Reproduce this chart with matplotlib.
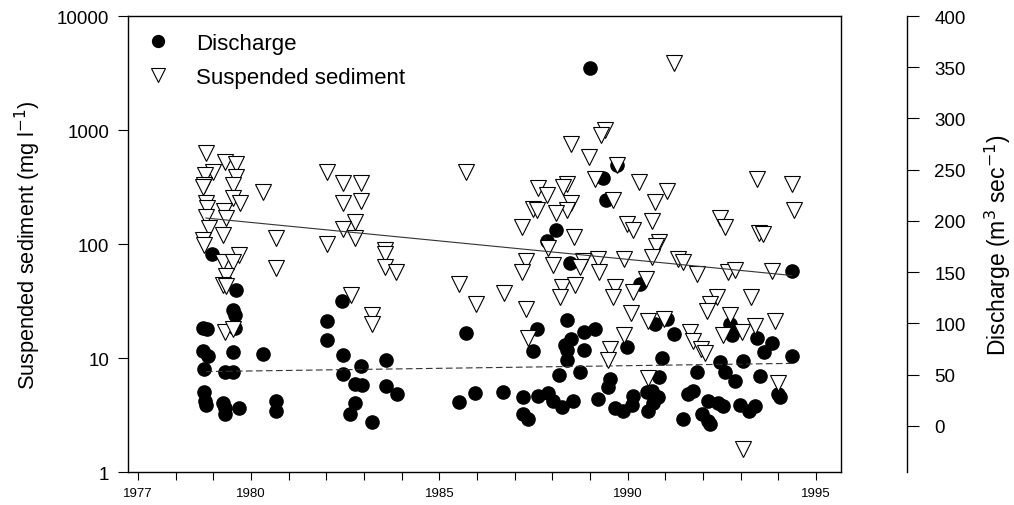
import matplotlib
matplotlib.use('Agg')
import matplotlib.pyplot as plt
from matplotlib.ticker import FixedLocator, NullLocator

plt.rcParams['font.family'] = ['Liberation Sans', 'DejaVu Sans']

# suspended sediment (mg/l), left log axis
sed_year = [
    1978.80, 1979.31, 1979.60, 1978.99, 1978.78, 1979.60, 1978.75, 1978.72, 1979.52, 1979.52,
    1979.71, 1978.80, 1978.83, 1979.28, 1978.80, 1979.33, 1978.88, 1979.25, 1978.72, 1978.75,
    1979.68, 1979.25, 1979.52, 1979.33, 1979.25, 1979.33, 1979.31, 1979.52, 1980.32, 1980.66,
    1980.66,
    1982.01, 1982.44, 1982.92, 1982.44, 1982.92, 1982.76, 1982.44, 1982.76, 1982.01, 1983.55,
    1983.55, 1983.55, 1983.84, 1982.65, 1983.21, 1983.21,
    1985.70, 1985.51, 1985.97, 1986.71,
    1991.22, 1989.39, 1989.28, 1988.49, 1988.96, 1989.71, 1989.12, 1990.29, 1989.60, 1991.03,
    1990.71, 1987.61, 1987.85, 1988.38, 1988.27, 1988.49, 1988.38, 1987.48, 1987.58, 1988.09,
    1987.19, 1988.57, 1989.97, 1990.13, 1990.63, 1990.84, 1990.74, 1987.88, 1990.63, 1987.29,
    1987.19, 1988.01, 1988.80, 1988.72, 1989.20, 1989.23, 1989.89, 1991.32, 1988.25, 1988.19,
    1988.59, 1989.65, 1989.60, 1990.13, 1990.47, 1987.29, 1990.08, 1990.53, 1990.95, 1987.34,
    1989.89, 1989.52, 1989.47, 1990.53,
    1991.46, 1991.85, 1992.44, 1992.57, 1993.42, 1994.35, 1994.40, 1993.47, 1993.58, 1992.65,
    1992.84, 1993.82, 1992.36, 1992.17, 1992.09, 1993.26, 1992.70, 1991.64, 1991.72, 1993.37,
    1993.92, 1992.52, 1993.02, 1991.95, 1992.04, 1993.98, 1993.05,
]
sed_val = [
    629, 524, 504, 428, 403, 387, 329, 316, 329, 253,
    229, 229, 207, 195, 173, 169, 138, 120, 108, 98,
    80, 70, 70, 52, 44, 43, 17, 18, 286, 113,
    62,
    428, 343, 343, 229, 238, 156, 135, 113, 100, 89,
    82, 63, 57, 36, 24, 20,
    428, 45, 30, 37,
    3870, 1000, 904, 754, 580, 493, 372, 350, 243, 292,
    233, 310, 269, 336, 316, 229, 199, 203, 199, 187,
    141, 115, 150, 133, 159, 104, 96, 92, 77, 71,
    57, 65, 71, 63, 74, 57, 74, 74, 42, 34,
    44, 42, 34, 38, 49, 27, 25, 21, 22, 15,
    16, 12, 9.6, 6.7,
    70, 55, 169, 141, 372, 336, 199, 125, 122, 57,
    59, 58, 34, 30, 26, 34, 24, 17, 14, 19,
    21, 16, 17, 12, 11, 6.0, 1.6,
]

# discharge (m3/s), right axis
dis_year = [
    1978.96, 1979.60, 1979.52, 1979.57, 1978.72, 1978.83, 1979.57, 1978.72, 1978.86, 1978.75,
    1979.52, 1979.31, 1979.52, 1978.75, 1978.78, 1978.80, 1979.25, 1979.31, 1979.31, 1979.68,
    1980.32, 1980.66, 1980.66,
    1982.01, 1982.01, 1982.41, 1982.44, 1982.44, 1982.92, 1982.76, 1982.94, 1982.76, 1982.62,
    1983.21, 1983.58, 1983.58, 1983.87,
    1985.70, 1985.51, 1985.94, 1986.68,
    1988.99, 1989.71, 1989.33, 1989.41, 1988.09, 1987.85, 1988.46, 1990.32, 1991.03, 1990.71,
    1988.38, 1987.58, 1989.12, 1988.83, 1991.22, 1988.49, 1988.33, 1988.38, 1988.38, 1988.83,
    1987.48, 1989.97, 1990.92, 1988.17, 1988.72, 1989.52, 1989.47, 1990.84, 1987.21, 1987.61,
    1987.88, 1988.01, 1988.25, 1988.54, 1987.21, 1987.34, 1989.20, 1989.65, 1989.86, 1990.13,
    1990.11, 1990.50, 1990.63, 1990.53, 1990.79, 1990.66, 1991.59, 1991.72, 1991.46, 1991.98,
    1992.12, 1992.17, 1992.12, 1992.39, 1992.52, 1992.97, 1993.23, 1993.37, 1993.98, 1994.03,
    1994.35, 1992.70, 1992.76, 1993.42, 1993.82, 1993.61, 1992.44, 1992.57, 1992.84, 1993.05,
    1994.37, 1991.85, 1993.50,
]
dis_val = [
    168, 133, 113, 108, 96, 95, 96, 73, 68, 56,
    72, 53, 53, 33, 24, 20, 22, 17, 12, 17,
    70, 24, 15,
    102, 84, 122, 69, 51, 58, 41, 40, 22, 12,
    4, 64, 39, 31,
    91, 23, 32, 33,
    349, 255, 242, 220, 191, 180, 159, 138, 104, 99,
    103, 95, 95, 92, 90, 85, 79, 74, 64, 74,
    73, 77, 66, 50, 53, 46, 38, 48, 28, 29,
    32, 24, 18, 24, 12, 7, 26, 17, 15, 29,
    20, 33, 34, 15, 28, 22, 31, 34, 7, 12,
    5, 2, 24, 22, 19, 20, 15, 19, 31, 28,
    151, 99, 89, 86, 81, 72, 62, 53, 44, 63,
    68, 53, 49,
]

# fitted trends
trend_year = [1978.8, 1994.35]
sed_trend = [169, 53]
dis_trend = [53, 61]

xticks = list(range(1977, 1996))
xlabels = [str(y) if y in (1977, 1980, 1985, 1990, 1995) else '' for y in xticks]

fig = plt.figure(figsize=(10.14, 5.06), dpi=100)
ax = fig.add_axes([0.1262, 0.0652, 0.7032, 0.9012])
ax2 = ax.twinx()

ax2.plot(dis_year, dis_val, linestyle='none', marker='o', markersize=9.5,
         color='black', label='Discharge')
ax2.plot(trend_year, dis_trend, color='#333333', lw=0.8, dashes=(6, 3))

ax.plot(sed_year, sed_val, linestyle='none', marker='v', markersize=11,
        mfc='white', mec='black', mew=0.8, label='Suspended sediment')
ax.plot(trend_year, sed_trend, color='#333333', lw=0.8)

# sediment triangles sit on top of the discharge circles
ax.set_zorder(ax2.get_zorder() + 1)
ax.patch.set_visible(False)

ax.set_yscale('log')
ax.set_ylim(1, 10000)
ax.yaxis.set_major_locator(FixedLocator([1, 10, 100, 1000, 10000]))
ax.yaxis.set_minor_locator(NullLocator())
ax.set_yticklabels(['1', '10', '100', '1000', '10000'])
ax.set_xlim(1976.73, 1995.66)
ax.set_xticks(xticks)
ax.set_xticklabels(xlabels)

ax2.set_ylim(-45, 400)
ax2.set_yticks(range(0, 401, 50))
ax2.spines['right'].set_position(('outward', 47.5))
for s in ['top', 'left', 'bottom']:
    ax2.spines[s].set_visible(False)

ax.tick_params(axis='y', direction='out', length=7, width=0.8, labelsize=13.5, pad=6.5)
ax.tick_params(axis='x', direction='out', length=6, width=0.8, labelsize=9.5, pad=5)
ax2.tick_params(axis='y', direction='out', length=8.6, width=0.8, labelsize=13.5, pad=11)

for s in ax.spines.values():
    s.set_linewidth(1.0)
ax2.spines['right'].set_linewidth(1.0)

ax.set_ylabel('Suspended sediment (mg l$^{-1}$)', fontsize=15.7, labelpad=10)
ax2.set_ylabel('Discharge (m$^{3}$ sec$^{-1}$)', fontsize=16.5, labelpad=12)

h1, l1 = ax2.get_legend_handles_labels()
h2, l2 = ax.get_legend_handles_labels()
leg = ax.legend(h1 + h2, l1 + l2, loc='upper left', frameon=False, fontsize=16,
                handletextpad=1.1, borderaxespad=0.35, labelspacing=0.6,
                handlelength=1.2, markerscale=0.9)

fig.savefig('out.png', dpi=100)
